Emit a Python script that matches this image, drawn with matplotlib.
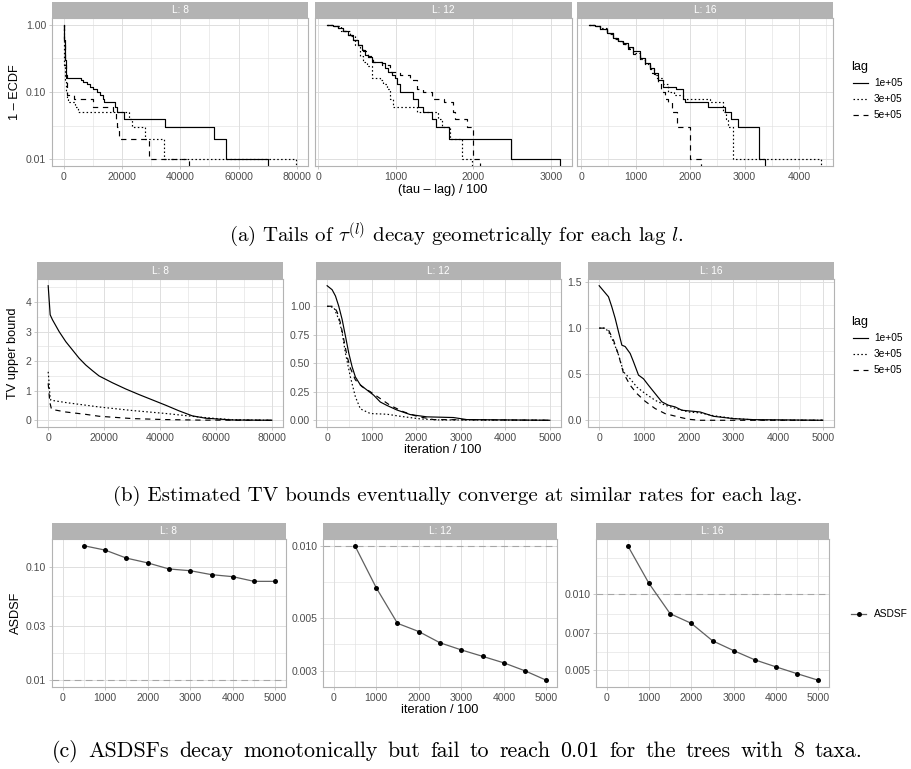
import numpy as np
import matplotlib
matplotlib.use("Agg")
import matplotlib.pyplot as plt
from matplotlib.ticker import FixedLocator, FixedFormatter, NullFormatter
from matplotlib.lines import Line2D

plt.rcParams['font.family'] = ['Liberation Sans', 'DejaVu Sans']
plt.rcParams['mathtext.fontset'] = 'cm'

W, H = 911, 769

#########################################################################################
## data

lags = ['1e+05', '3e+05', '5e+05']
facet_labels = ['L: 8', 'L: 12', 'L: 16']

## (a) 1 - ECDF of (tau - lag)/100
tail_x_L8_1e5 = [0, 150, 300, 500, 700, 900, 1100, 6000, 6800, 8000, 9000, 10000, 11500, 12500, 13500, 14000, 17600, 18200, 20700, 34900, 51700, 55600, 70000]
tail_s_L8_1e5 = [1.0, 0.6, 0.4, 0.3, 0.22, 0.18, 0.16, 0.15, 0.14, 0.13, 0.12, 0.11, 0.10, 0.09, 0.08, 0.07, 0.06, 0.05, 0.04, 0.03, 0.02, 0.01, 0.0]
tail_x_L8_3e5 = [0, 100, 250, 500, 800, 1000, 1500, 3800, 5000, 22500, 23300, 28000, 34400, 79800]
tail_s_L8_3e5 = [1.0, 0.5, 0.25, 0.15, 0.1, 0.08, 0.07, 0.06, 0.05, 0.04, 0.03, 0.02, 0.01, 0.0]
tail_x_L8_5e5 = [0, 150, 400, 800, 1300, 3600, 10200, 17000, 17800, 18400, 19000, 29300, 43000]
tail_s_L8_5e5 = [1.0, 0.5, 0.25, 0.15, 0.09, 0.08, 0.06, 0.05, 0.04, 0.03, 0.02, 0.01, 0.0]

tail_x_L12_1e5 = [110, 194, 260, 323, 390, 452, 517, 560, 603, 646, 689, 818, 861, 904, 950, 990, 1020, 1055, 1227, 1290, 1347, 1464, 1520, 1687, 2484, 3121]
tail_s_L12_1e5 = [1.0, 0.97, 0.88, 0.80, 0.70, 0.60, 0.50, 0.42, 0.36, 0.33, 0.28, 0.27, 0.23, 0.20, 0.18, 0.16, 0.13, 0.10, 0.08, 0.06, 0.05, 0.04, 0.03, 0.02, 0.01, 0.0]
tail_x_L12_3e5 = [110, 194, 300, 409, 480, 538, 580, 624, 689, 796, 840, 883, 930, 969, 1270, 1550, 1600, 1700, 1851, 1980]
tail_s_L12_3e5 = [1.0, 0.95, 0.80, 0.67, 0.50, 0.34, 0.28, 0.24, 0.16, 0.15, 0.13, 0.11, 0.08, 0.06, 0.05, 0.04, 0.03, 0.02, 0.01, 0.0]
tail_x_L12_5e5 = [110, 194, 260, 323, 390, 452, 517, 580, 640, 710, 818, 925, 1055, 1184, 1270, 1356, 1464, 1627, 1744, 1765, 1916, 2002, 2088]
tail_s_L12_5e5 = [1.0, 0.97, 0.88, 0.80, 0.70, 0.60, 0.50, 0.40, 0.34, 0.28, 0.25, 0.20, 0.18, 0.15, 0.11, 0.10, 0.08, 0.07, 0.05, 0.04, 0.03, 0.01, 0.0]

tail_x_L16_1e5 = [140, 250, 347, 470, 591, 680, 774, 860, 957, 1079, 1170, 1262, 1340, 1415, 1506, 1750, 1872, 1900, 2329, 2634, 2756, 2878, 3274, 3378]
tail_s_L16_1e5 = [1.0, 0.95, 0.87, 0.75, 0.63, 0.57, 0.53, 0.46, 0.40, 0.32, 0.27, 0.23, 0.19, 0.15, 0.12, 0.11, 0.08, 0.07, 0.06, 0.05, 0.04, 0.03, 0.01, 0.0]
tail_x_L16_3e5 = [140, 250, 347, 470, 591, 680, 774, 860, 957, 1079, 1170, 1262, 1340, 1415, 1506, 1598, 1700, 1872, 2360, 2604, 2652, 2700, 2787, 4409]
tail_s_L16_3e5 = [1.0, 0.95, 0.88, 0.76, 0.64, 0.58, 0.52, 0.45, 0.38, 0.31, 0.26, 0.22, 0.18, 0.16, 0.13, 0.10, 0.09, 0.08, 0.07, 0.05, 0.04, 0.03, 0.01, 0.0]
tail_x_L16_5e5 = [140, 250, 347, 470, 591, 680, 774, 860, 957, 1079, 1170, 1262, 1310, 1354, 1420, 1476, 1540, 1598, 1677, 1762, 1994, 2207]
tail_s_L16_5e5 = [1.0, 0.95, 0.87, 0.74, 0.62, 0.56, 0.51, 0.44, 0.37, 0.30, 0.26, 0.22, 0.19, 0.16, 0.13, 0.10, 0.08, 0.07, 0.05, 0.03, 0.01, 0.0]

## (b) TV upper bound vs iteration/100
tv_x_L8_1e5 = [0, 714, 1548, 3929, 6310, 8690, 11071, 13452, 15833, 18214, 22976, 27738, 32500, 37262, 42024, 46786, 51548, 56310, 65833, 80000]
tv_y_L8_1e5 = [4.555, 3.57, 3.40, 3.00, 2.66, 2.38, 2.10, 1.87, 1.68, 1.50, 1.27, 1.06, 0.87, 0.69, 0.51, 0.32, 0.15, 0.07, 0.01, 0.0]
tv_x_L8_3e5 = [0, 300, 600, 952, 6310, 18214, 30119, 42024, 53929, 60000, 65833, 80000]
tv_y_L8_3e5 = [1.64, 1.30, 0.85, 0.68, 0.60, 0.45, 0.33, 0.23, 0.11, 0.06, 0.02, 0.0]
tv_x_L8_5e5 = [0, 600, 1200, 6310, 13452, 18214, 30119, 42024, 55000, 80000]
tv_y_L8_5e5 = [1.25, 0.60, 0.37, 0.28, 0.20, 0.136, 0.057, 0.023, 0.005, 0.0]

tv_x_L12_1e5 = [0, 112, 187, 261, 336, 410, 485, 560, 634, 746, 895, 1045, 1194, 1343, 1567, 1866, 2239, 2836, 3134, 5000]
tv_y_L12_1e5 = [1.18, 1.145, 1.09, 1.0, 0.885, 0.74, 0.59, 0.47, 0.38, 0.31, 0.265, 0.22, 0.16, 0.13, 0.09, 0.05, 0.03, 0.024, 0.006, 0.0]
tv_x_L12_3e5 = [0, 149, 261, 336, 410, 522, 634, 746, 970, 1343, 1642, 2090, 2500, 5000]
tv_y_L12_3e5 = [1.0, 0.99, 0.885, 0.77, 0.59, 0.38, 0.206, 0.10, 0.059, 0.053, 0.035, 0.012, 0.003, 0.0]
tv_x_L12_5e5 = [0, 149, 224, 298, 373, 448, 522, 634, 783, 970, 1194, 1418, 1716, 2015, 2388, 5000]
tv_y_L12_5e5 = [1.0, 1.0, 0.95, 0.855, 0.71, 0.56, 0.457, 0.354, 0.295, 0.25, 0.19, 0.13, 0.074, 0.035, 0.006, 0.0]

tv_x_L16_1e5 = [0, 208, 283, 358, 432, 507, 581, 693, 767, 879, 991, 1102, 1251, 1401, 1549, 1698, 1848, 2257, 2555, 3000, 3448, 5000]
tv_y_L16_1e5 = [1.46, 1.34, 1.23, 1.105, 0.96, 0.815, 0.80, 0.725, 0.635, 0.49, 0.45, 0.38, 0.29, 0.20, 0.163, 0.145, 0.109, 0.09, 0.043, 0.018, 0.007, 0.0]
tv_x_L16_3e5 = [0, 134, 208, 320, 432, 544, 693, 842, 1028, 1251, 1475, 1698, 1996, 2257, 2555, 3000, 3500, 5000]
tv_y_L16_3e5 = [1.0, 1.0, 0.96, 0.85, 0.71, 0.525, 0.45, 0.36, 0.29, 0.217, 0.163, 0.13, 0.09, 0.08, 0.05, 0.02, 0.003, 0.0]
tv_x_L16_5e5 = [0, 134, 208, 320, 432, 544, 693, 842, 1028, 1251, 1475, 1773, 1996, 2250, 5000]
tv_y_L16_5e5 = [1.0, 1.0, 0.98, 0.87, 0.71, 0.51, 0.38, 0.29, 0.206, 0.127, 0.072, 0.036, 0.011, 0.0, 0.0]

## (c) ASDSF
asdsf_iter = [500, 1000, 1500, 2000, 2500, 3000, 3500, 4000, 4500, 5000]
asdsf_L8 = [0.153, 0.140, 0.119, 0.108, 0.0955, 0.0922, 0.0851, 0.0817, 0.0743, 0.0743]
asdsf_L12 = [0.0100, 0.00668, 0.00474, 0.00438, 0.00393, 0.00367, 0.00345, 0.00324, 0.00300, 0.00274]
asdsf_L16 = [0.01549, 0.01101, 0.00836, 0.00766, 0.00654, 0.00598, 0.00550, 0.00516, 0.00485, 0.00457]
asdsf_target = 0.01

captions = [
    r'(a) Tails of $\tau^{(l)}$ decay geometrically for each lag $l$.',
    '(b) Estimated TV bounds eventually converge at similar rates for each lag.',
    '(c) ASDSFs decay monotonically but fail to reach 0.01 for the trees with 8 taxa.',
]

#########################################################################################
## style helpers

line_styles = ['-', (0, (1.3, 2.0)), (0, (4.5, 4.0))]
LW = 0.85
GRID_MAJ = '#DEDEDE'
BORDER = '#B3B3B3'
TICKTXT = '#4D4D4D'

fig = plt.figure(figsize=(W / 100, H / 100), dpi=100)


def fx(x):
    return x / W


def fy(y):
    return 1 - y / H


def make_panel(x0, x1, y0, y1, label):
    ax = fig.add_axes([fx(x0), fy(y1), (x1 - x0) / W, (y1 - y0) / H])
    sax = fig.add_axes([fx(x0), fy(y0), (x1 - x0) / W, 16.5 / H])
    sax.set_facecolor(BORDER)
    sax.set_xticks([]); sax.set_yticks([])
    for sp in sax.spines.values():
        sp.set_visible(False)
    sax.text(0.5, 0.5, label, color='white', fontsize=7.3, ha='center', va='center', transform=sax.transAxes)
    for sp in ax.spines.values():
        sp.set_color(BORDER)
        sp.set_linewidth(0.8)
    ax.tick_params(which='major', length=2.2, width=0.5, color=BORDER, labelsize=7.6, labelcolor=TICKTXT, pad=2)
    ax.tick_params(which='minor', length=0)
    ax.grid(which='major', color=GRID_MAJ, lw=0.7)
    ax.grid(which='minor', color=GRID_MAJ, lw=0.4)
    ax.set_axisbelow(True)
    return ax


def set_axis(axis, majors, labels, minors):
    axis.set_major_locator(FixedLocator(majors))
    axis.set_major_formatter(FixedFormatter(labels))
    axis.set_minor_locator(FixedLocator(minors))
    axis.set_minor_formatter(NullFormatter())


def lin_lim(lo, hi):
    r = hi - lo
    return lo - 0.05 * r, hi + 0.05 * r


def log_lim(lo, hi):
    a, b = np.log10(lo), np.log10(hi)
    r = b - a
    return 10 ** (a - 0.05 * r), 10 ** (b + 0.05 * r)


#########################################################################################
## row (a)

tails = [
    [(tail_x_L8_1e5, tail_s_L8_1e5), (tail_x_L8_3e5, tail_s_L8_3e5), (tail_x_L8_5e5, tail_s_L8_5e5)],
    [(tail_x_L12_1e5, tail_s_L12_1e5), (tail_x_L12_3e5, tail_s_L12_3e5), (tail_x_L12_5e5, tail_s_L12_5e5)],
    [(tail_x_L16_1e5, tail_s_L16_1e5), (tail_x_L16_3e5, tail_s_L16_3e5), (tail_x_L16_5e5, tail_s_L16_5e5)],
]
row_a_pos = [(52, 308), (315, 572), (577, 833)]
a_xticks = [[0, 20000, 40000, 60000, 80000], [0, 1000, 2000, 3000], [0, 1000, 2000, 3000, 4000]]
a_xminor = [[10000, 30000, 50000, 70000], [500, 1500, 2500], [500, 1500, 2500, 3500, 4500]]

all_s = [v for p in tails for c in p for v in c[1] if v > 0]
a_ylim = log_lim(min(all_s), max(all_s))

for i, (x0, x1) in enumerate(row_a_pos):
    ax = make_panel(x0, x1, 18, 166, facet_labels[i])
    for j, (xs, ss) in enumerate(tails[i]):
        ax.plot(xs, ss, drawstyle='steps-post', color='black', lw=LW, ls=line_styles[j])
    ax.set_yscale('log')
    ax.set_ylim(*a_ylim)
    xmin = min(min(c[0]) for c in tails[i])
    xmax = max(max(c[0]) for c in tails[i])
    ax.set_xlim(*lin_lim(xmin, xmax))
    set_axis(ax.xaxis, a_xticks[i], [str(t) for t in a_xticks[i]], a_xminor[i])
    set_axis(ax.yaxis, [0.01, 0.1, 1.0], ['0.01', '0.10', '1.00'], [10 ** -1.5, 10 ** -0.5])
    if i > 0:
        ax.tick_params(axis='y', labelleft=False, length=0)

fig.text(fx(15), fy(92), '1 – ECDF', rotation=90, ha='center', va='center', fontsize=9.2)
fig.text(fx(443), fy(190), '(tau – lag) / 100', ha='center', va='center', fontsize=9.2)

#########################################################################################
## row (b)

tvs = [
    [(tv_x_L8_1e5, tv_y_L8_1e5), (tv_x_L8_3e5, tv_y_L8_3e5), (tv_x_L8_5e5, tv_y_L8_5e5)],
    [(tv_x_L12_1e5, tv_y_L12_1e5), (tv_x_L12_3e5, tv_y_L12_3e5), (tv_x_L12_5e5, tv_y_L12_5e5)],
    [(tv_x_L16_1e5, tv_y_L16_1e5), (tv_x_L16_3e5, tv_y_L16_3e5), (tv_x_L16_5e5, tv_y_L16_5e5)],
]
row_b_pos = [(37, 283), (316, 561), (588, 834)]
b_xticks = [[0, 20000, 40000, 60000, 80000], [0, 1000, 2000, 3000, 4000, 5000], [0, 1000, 2000, 3000, 4000, 5000]]
b_xminor = [[10000, 30000, 50000, 70000], [500, 1500, 2500, 3500, 4500], [500, 1500, 2500, 3500, 4500]]
b_yticks = [[0, 1, 2, 3, 4], [0, 0.25, 0.5, 0.75, 1.0], [0, 0.5, 1.0, 1.5]]
b_ylabels = [['0', '1', '2', '3', '4'], ['0.00', '0.25', '0.50', '0.75', '1.00'], ['0.0', '0.5', '1.0', '1.5']]
b_yminor = [[0.5, 1.5, 2.5, 3.5, 4.5], [0.125, 0.375, 0.625, 0.875, 1.125], [0.25, 0.75, 1.25]]

for i, (x0, x1) in enumerate(row_b_pos):
    ax = make_panel(x0, x1, 279, 427, facet_labels[i])
    for j, (xs, ys) in enumerate(tvs[i]):
        ax.plot(xs, ys, color='black', lw=LW, ls=line_styles[j])
    ys_all = [v for c in tvs[i] for v in c[1]]
    xs_all = [v for c in tvs[i] for v in c[0]]
    ax.set_ylim(*lin_lim(min(ys_all), max(ys_all)))
    ax.set_xlim(*lin_lim(min(xs_all), max(xs_all)))
    set_axis(ax.xaxis, b_xticks[i], [str(t) for t in b_xticks[i]], b_xminor[i])
    set_axis(ax.yaxis, b_yticks[i], b_ylabels[i], b_yminor[i])

fig.text(fx(13), fy(353), 'TV upper bound', rotation=90, ha='center', va='center', fontsize=9.2)
fig.text(fx(443), fy(450), 'iteration / 100', ha='center', va='center', fontsize=9.2)

#########################################################################################
## row (c)

asdsf = [asdsf_L8, asdsf_L12, asdsf_L16]
row_c_pos = [(52, 286), (323, 557), (596, 829)]
c_yticks = [[0.01, 0.03, 0.1], [0.003, 0.005, 0.01], [0.005, 0.007, 0.01]]
c_ylabels = [['0.01', '0.03', '0.10'], ['0.003', '0.005', '0.010'], ['0.005', '0.007', '0.010']]
c_yminor = [[0.01732, 0.05477], [0.003873, 0.007071], [0.005916, 0.008367, 0.0118, 0.0139]]
c_xticks = [0, 1000, 2000, 3000, 4000, 5000]
c_xminor = [500, 1500, 2500, 3500, 4500]

for i, (x0, x1) in enumerate(row_c_pos):
    ax = make_panel(x0, x1, 539, 687, facet_labels[i])
    ax.axhline(asdsf_target, color='#A6A6A6', lw=0.8, ls=(0, (6, 4)))
    ax.plot(asdsf_iter, asdsf[i], color='#606060', lw=0.9)
    ax.plot(asdsf_iter, asdsf[i], 'o', color='black', ms=3.6, mec='none')
    ax.set_yscale('log')
    vals = asdsf[i] + [asdsf_target]
    ax.set_ylim(*log_lim(min(vals), max(vals)))
    ax.set_xlim(*lin_lim(0, max(asdsf_iter)))
    set_axis(ax.xaxis, c_xticks, [str(t) for t in c_xticks], c_xminor)
    set_axis(ax.yaxis, c_yticks[i], c_ylabels[i], c_yminor[i])

fig.text(fx(16), fy(613), 'ASDSF', rotation=90, ha='center', va='center', fontsize=9.2)
fig.text(fx(440), fy(710), 'iteration / 100', ha='center', va='center', fontsize=9.2)

#########################################################################################
## legends


def lag_legend(y_title):
    fig.text(fx(851), fy(y_title), 'lag', ha='left', va='center', fontsize=9.2)
    for j, lab in enumerate(lags):
        yy = y_title + 16 * (j + 1)
        fig.add_artist(Line2D([fx(853), fx(868)], [fy(yy), fy(yy)], color='black', lw=LW, ls=line_styles[j], transform=fig.transFigure))
        fig.text(fx(874), fy(yy), lab, ha='left', va='center', fontsize=7.3)


lag_legend(67)
lag_legend(322)

fig.add_artist(Line2D([fx(851), fx(866)], [fy(614), fy(614)], color='#606060', lw=0.9, transform=fig.transFigure))
fig.add_artist(Line2D([fx(858.5)], [fy(614)], marker='o', color='black', ms=3.6, mec='none', transform=fig.transFigure))
fig.text(fx(874), fy(614), 'ASDSF', ha='left', va='center', fontsize=7.3)

#########################################################################################
## captions (LaTeX style; the long one fills the line)

cap = dict(family='cmr10', fontsize=15, va='baseline')
fig.text(fx(456), fy(241), captions[0], ha='center', **cap)
fig.text(fx(458), fy(501), captions[1], ha='center', **cap)

cap_c = dict(cap, fontsize=15.8)
renderer = fig.canvas.get_renderer()
words = captions[2].split(' ')
wt = [fig.text(0, fy(757), w, ha='left', **cap_c) for w in words]
widths = [t.get_window_extent(renderer).width for t in wt]
gap = (862 - 52 - sum(widths)) / (len(words) - 1)
xpos = 52
for t, w in zip(wt, widths):
    t.set_x(fx(xpos))
    xpos += w + gap

fig.savefig('out.png', dpi=100)
